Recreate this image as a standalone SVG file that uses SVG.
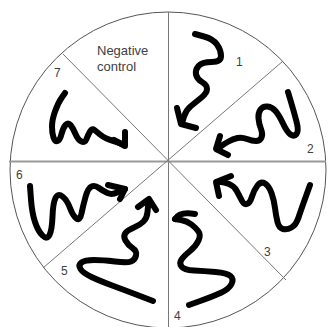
<svg xmlns="http://www.w3.org/2000/svg" width="328" height="327" viewBox="0 0 328 327">
<style>
.lbl{font-family:"Liberation Sans",Arial,sans-serif;font-size:12px;fill:#404040}
.nc{font-family:"Liberation Sans",Arial,sans-serif;font-size:13px;fill:#404040}
.sq{fill:none;stroke:#000;stroke-width:6;stroke-linecap:round;stroke-linejoin:round}
.div{stroke:#777;stroke-width:1;fill:none}
</style>
<rect width="328" height="327" fill="#fff"/>
<g id="plate">
<circle cx="168" cy="170" r="158" fill="none" stroke="#555" stroke-width="1"/>
</g>
<g id="dividers">
<line class="div" x1="168.5" y1="12" x2="168.5" y2="327" stroke="#666"/>
<line x1="9" y1="161.5" x2="326" y2="161.5" stroke="#999" stroke-width="2"/>
<line class="div" x1="63" y1="54" x2="286" y2="280"/>
<line class="div" x1="283" y1="61" x2="43" y2="268"/>
</g>
<g id="negative-control">
<text class="nc" x="97" y="55">Negative</text>
<text class="nc" x="97" y="70.5">control</text>
</g>
<g id="sector-1">
<text class="lbl" x="236" y="66">1</text>
<path class="sq" d="M195 34 L204 36.5 Q213 39 217 44.5 Q221 50 221 56 Q221 62 211.5 62 Q202 62 198.5 66 Q195 70 196 74.5 Q197 79 202 82 Q207 85 207 89 Q207 93 201.5 97.5 Q196 102 191 106 Q186 110 184 116.5 L182 123"/>
<path class="sq" d="M177 108 L181 124 L196 128"/>
</g>
<g id="sector-2">
<text class="lbl" x="307" y="153">2</text>
<path class="sq" d="M288 92 L291 102 Q294 112 296.5 121.5 Q299 131 296.5 134 Q294 137 290.5 134.5 Q287 132 283 123.5 Q279 115 275.5 111 Q272 107 267.5 106.5 Q263 106 260.5 109.5 Q258 113 258.5 118.5 Q259 124 261 129 Q263 134 261.5 137.5 Q260 141 256 141 Q252 141 247 139 Q242 137 237.5 138 Q233 139 228.5 141.5 Q224 144 220.5 146.5 L217 149"/>
<path class="sq" d="M220 136 L216 149 L228 155"/>
</g>
<g id="sector-3">
<text class="lbl" x="264" y="256">3</text>
<path class="sq" d="M310 185 L305.5 197.5 Q301 210 298.5 217.5 Q296 225 291.5 227.5 Q287 230 283 229 Q279 228 277.5 222 Q276 216 275 208 Q274 200 271.5 193 Q269 186 265 183.5 Q261 181 257.5 185.5 Q254 190 252 196.5 Q250 203 247 204 Q244 205 241.5 200 Q239 195 236.5 190.5 Q234 186 229 184 Q224 182 220.5 182 L217 182"/>
<path class="sq" d="M219 196 L216 182 L231 176"/>
</g>
<g id="sector-4">
<text class="lbl" x="174" y="320">4</text>
<path class="sq" d="M189 305 L201.5 300.5 Q214 296 221.5 292.5 Q229 289 231.5 284 Q234 279 230.5 276 Q227 273 215.5 272 Q204 271 194 270.5 Q184 270 181.5 266.5 Q179 263 181.5 259.5 Q184 256 190 251 Q196 246 198.5 240.5 Q201 235 198.5 231.5 Q196 228 191.5 224.5 Q187 221 181 220 L175 219"/>
<path class="sq" d="M175 219 Q180 211 195 214"/>
</g>
<g id="sector-5">
<text class="lbl" x="61" y="275">5</text>
<path class="sq" d="M153 301 L140 296 Q127 291 113.5 286 Q100 281 91.5 277 Q83 273 80.5 269 Q78 265 81.5 262.5 Q85 260 94 260 Q103 260 115 261.5 Q127 263 131 261.5 Q135 260 136 255.5 Q137 251 132.5 248 Q128 245 125.5 240.5 Q123 236 125.5 233 Q128 230 134 227.5 Q140 225 143.5 221.5 Q147 218 147.5 212 Q148 206 148.5 203 L149 200"/>
<path class="sq" d="M138 207 L149 199 L156 210"/>
</g>
<g id="sector-6">
<text class="lbl" x="16" y="179">6</text>
<path class="sq" d="M30 186 L31 199.5 Q32 213 35 222 Q38 231 42.5 235.5 Q47 240 49.5 235 Q52 230 52.5 216.5 Q53 203 55.5 198 Q58 193 62.5 196.5 Q67 200 70 208 Q73 216 76.5 218.5 Q80 221 81.5 213.5 Q83 206 85.5 197 Q88 188 91.5 186.5 Q95 185 99 188 Q103 191 107.5 193 Q112 195 117 192.5 Q122 190 125 189"/>
<path class="sq" d="M108 185 L125 189 L120 199"/>
</g>
<g id="sector-7">
<text class="lbl" x="54" y="77">7</text>
<path class="sq" d="M65 93 L61.5 98 Q58 103 55 111.5 Q52 120 52 126.5 Q52 133 53.5 137.5 Q55 142 57.5 141 Q60 140 61.5 134 Q63 128 65.5 125 Q68 122 70.5 125 Q73 128 75.5 134 Q78 140 81.5 141.5 Q85 143 86.5 139 Q88 135 90 131.5 Q92 128 94.5 130 Q97 132 100 134.5 Q103 137 106.5 138.5 Q110 140 113.5 141 Q117 142 120.5 143.5 L124 145"/>
<path class="sq" d="M125 132 L125 146 L114 140"/>
</g>
</svg>
